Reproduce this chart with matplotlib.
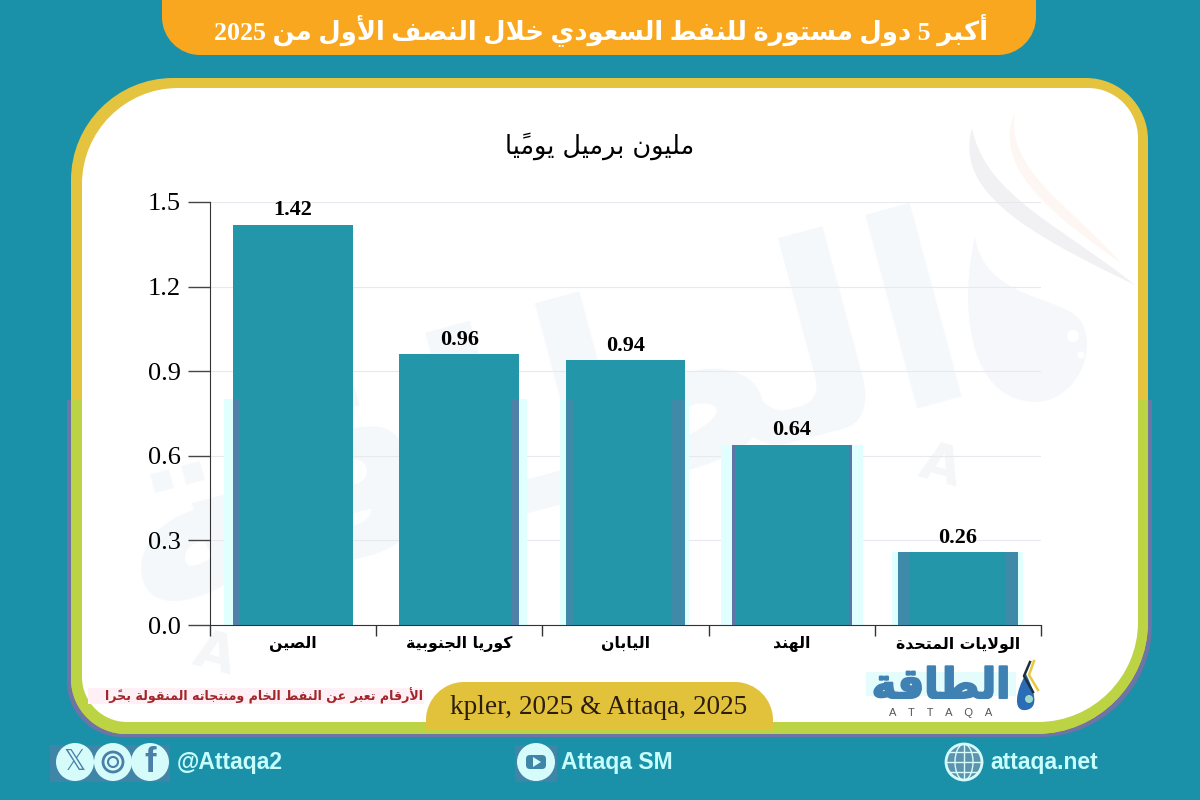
import numpy as np
import matplotlib
matplotlib.use("Agg")
import matplotlib.pyplot as plt
import matplotlib.patheffects as pe
from matplotlib.path import Path
from matplotlib.patches import PathPatch, Circle, Rectangle, FancyBboxPatch, Polygon, Ellipse

# data
categories = ["الصين", "كوريا الجنوبية", "اليابان", "الهند", "الولايات المتحدة"]
values = [1.42, 0.96, 0.94, 0.64, 0.26]
y_ticks = [0.0, 0.3, 0.6, 0.9, 1.2, 1.5]

title = "أكبر 5 دول مستورة للنفط السعودي خلال النصف الأول من 2025"
subtitle = "مليون برميل يوميًا"
note = "الأرقام تعبر عن النفط الخام ومنتجاته المنقولة بحرًا"
source = "kpler, 2025 & Attaqa, 2025"

# colours
TEAL = "#1b91a9"
BAR = "#2396aa"
ORANGE = "#f9a71f"
YELLOW = "#e4c33f"
GREEN = "#bcd444"
PURPLE = "#6d74a6"
CYAN = "#c8fdfd"
HALO = "#e0ffff"

SERIF = ["Liberation Serif", "DejaVu Sans"]
SANS = ["Liberation Sans", "DejaVu Sans"]

# faixas claras/roxas nos lados das barras: halo esq, halo dir, faixa esq, faixa dir (px)
edge_px = [(9, 0, 7, 0), (0, 8, 0, 8), (6, 4, 8, 13), (11, 11, 3, 3), (6, 5, 12, 12)]
edge_col = ["#4f80a8", "#4f80a8", "#3f8aa8", "#5f75a8", "#3f8aa8"]

# matplotlib nao faz shaping do arabe, entao as formas sao montadas aqui
FOUR = {"ب": 0xFE8F, "ت": 0xFE95, "ث": 0xFE99, "ج": 0xFE9D, "ح": 0xFEA1, "خ": 0xFEA5,
        "س": 0xFEB1, "ش": 0xFEB5, "ص": 0xFEB9, "ض": 0xFEBD, "ط": 0xFEC1, "ظ": 0xFEC5,
        "ع": 0xFEC9, "غ": 0xFECD, "ف": 0xFED1, "ق": 0xFED5, "ك": 0xFED9, "ل": 0xFEDD,
        "م": 0xFEE1, "ن": 0xFEE5, "ه": 0xFEE9, "ي": 0xFEF1}
TWO = {"ا": 0xFE8D, "أ": 0xFE83, "إ": 0xFE87, "آ": 0xFE81, "د": 0xFEA9, "ذ": 0xFEAB,
       "ر": 0xFEAD, "ز": 0xFEAF, "ة": 0xFE93, "و": 0xFEED, "ى": 0xFEEF}
LAM_ALEF = {"ا": 0xFEFB, "أ": 0xFEF7, "إ": 0xFEF9, "آ": 0xFEF5}
MARKS = "\u064b\u064c\u064d\u064e\u064f\u0650\u0651\u0652"


def shape_word(word):
    if not any(c in FOUR or c in TWO for c in word):
        return word
    # separa letras e marcas
    letters = []
    for c in word:
        if c in MARKS and letters:
            letters[-1][1] += c
        else:
            letters.append([c, ""])
    clusters = []
    prev_joins = False
    i = 0
    while i < len(letters):
        c, mark = letters[i]
        if c == "ل" and i + 1 < len(letters) and letters[i + 1][0] in LAM_ALEF:
            code = LAM_ALEF[letters[i + 1][0]] + (1 if prev_joins else 0)
            clusters.append(chr(code) + mark + letters[i + 1][1])
            prev_joins = False
            i += 2
            continue
        next_ok = i + 1 < len(letters)
        if c in FOUR:
            base = FOUR[c]
            if prev_joins and next_ok:
                code = base + 3
            elif prev_joins:
                code = base + 1
            elif next_ok:
                code = base + 2
            else:
                code = base
            prev_joins = True
        elif c in TWO:
            code = TWO[c] + (1 if prev_joins else 0)
            prev_joins = False
        else:
            code = ord(c)
            prev_joins = False
        clusters.append(chr(code) + mark)
        i += 1
    return "".join(reversed(clusters))


def ar(text):
    return " ".join(shape_word(w) for w in reversed(text.split(" ")))


def round_path(x0, y0, x1, y1, tl, tr, br, bl):
    # retangulo com um raio por canto, em pixels
    k = 0.45
    verts = [(x0 + tl, y0), (x1 - tr, y0),
             (x1 - tr * k, y0), (x1, y0 + tr * k), (x1, y0 + tr),
             (x1, y1 - br),
             (x1, y1 - br * k), (x1 - br * k, y1), (x1 - br, y1),
             (x0 + bl, y1),
             (x0 + bl * k, y1), (x0, y1 - bl * k), (x0, y1 - bl),
             (x0, y0 + tl),
             (x0, y0 + tl * k), (x0 + tl * k, y0), (x0 + tl, y0),
             (x0 + tl, y0)]
    c = Path.CURVE4
    codes = [Path.MOVETO, Path.LINETO, c, c, c, Path.LINETO, c, c, c, Path.LINETO,
             c, c, c, Path.LINETO, c, c, c, Path.CLOSEPOLY]
    return Path(verts, codes)


def blob(points):
    # forma fechada de curvas: ponto inicial + trios de controle
    codes = [Path.MOVETO] + [Path.CURVE4] * (len(points) - 1) + [Path.CLOSEPOLY]
    return Path(points + [points[0]], codes)


fig = plt.figure(figsize=(12, 8), dpi=100, facecolor=TEAL)

# camada de fundo em pixels
bg = fig.add_axes([0, 0, 1, 1], zorder=0)
bg.set_xlim(0, 1200)
bg.set_ylim(800, 0)
bg.axis("off")

# faixa do titulo
bg.add_patch(PathPatch(round_path(162, -30, 1036, 55, 0, 0, 38, 38), fc=ORANGE, ec="none"))
bg.text(601, 30, ar(title), family=SERIF, weight="bold", color="white", fontsize=18.6,
        ha="center", va="center")

# moldura: amarela em cima, verde em baixo a partir de y=400
outer = round_path(71, 78, 1148, 734, 102, 62, 112, 55)
inner = round_path(82, 88, 1138, 722, 96, 50, 100, 45)
lower = Rectangle((0, 400), 1200, 400, transform=bg.transData)
shadow = PathPatch(round_path(67, 78, 1152, 737, 102, 62, 112, 55), fc=PURPLE, ec="none")
bg.add_patch(shadow)
shadow.set_clip_path(lower)
bg.add_patch(PathPatch(outer, fc=YELLOW, ec="none"))
green = PathPatch(outer, fc=GREEN, ec="none")
bg.add_patch(green)
green.set_clip_path(lower)
inner_patch = PathPatch(inner, fc="white", ec="none")
bg.add_patch(inner_patch)

# marca d'agua
wm = bg.text(540, 430, ar("الطاقة"), family="DejaVu Sans", weight="bold", fontsize=190,
             color="#f5f8fb", rotation=15, ha="center", va="center", rotation_mode="anchor")
wm.set_clip_path(inner_patch)
for pos in [(214, 655), (940, 467)]:
    t = bg.text(pos[0], pos[1], "A", family="DejaVu Sans", weight="bold", fontsize=38,
                color="#f5f6f8", rotation=-15, ha="center", va="center")
    t.set_clip_path(inner_patch)
drop = blob([(975, 237), (960, 300), (965, 400), (1035, 402),
             (1075, 402), (1100, 350), (1080, 320), (1060, 295), (985, 300), (975, 237)])
bg.add_patch(PathPatch(drop, fc="#f6f7fb", ec="none"))
bg.add_patch(Circle((1073, 336), 6, fc="white", ec="none"))
bg.add_patch(Circle((1081, 355), 3.5, fc="white", ec="none"))
swoosh = blob([(972, 128), (955, 190), (1020, 230), (1135, 285), (1060, 225), (985, 195), (972, 128)])
bg.add_patch(PathPatch(swoosh, fc="#f1f1f3", ec="none"))
swoosh2 = blob([(1015, 112), (990, 170), (1060, 220), (1120, 262), (1070, 205), (1005, 170), (1015, 112)])
bg.add_patch(PathPatch(swoosh2, fc="#fdf6f2", ec="none"))

bg.text(600, 146, ar(subtitle), family="DejaVu Sans", color="black", fontsize=18.4,
        ha="center", va="center")

# nota e fonte
bg.add_patch(Rectangle((88, 688), 336, 16, fc="#fff0f6", ec="none"))
bg.text(264, 696, ar(note), family="DejaVu Sans", weight="bold", color="#a0262a", fontsize=9.1,
        ha="center", va="center")
bg.add_patch(PathPatch(round_path(426, 682, 773, 730, 38, 38, 0, 0), fc="#e2c23b", ec="none"))
bg.text(599, 708, source, family="Liberation Serif", color="#2b1d10", fontsize=19.6,
        ha="center", va="center")

# logo
bg.add_patch(Rectangle((866, 672), 150, 24, fc="#e4fcfc", ec="none"))
bg.text(941, 686, ar("الطاقة"), family="DejaVu Sans", weight="bold", fontsize=30,
        color="#3f81b2", ha="center", va="center",
        path_effects=[pe.withStroke(linewidth=1.5, foreground="#3f81b2")])
bg.text(941, 713, "A    T    T    A    Q    A", family="Liberation Sans", fontsize=8, color="#555555",
        ha="center", va="center")
bg.add_patch(PathPatch(blob([(1026, 674), (1016, 690), (1012, 712), (1026, 710),
                             (1040, 708), (1034, 690), (1026, 674)]), fc="#2a6cb5", ec="none"))
bg.add_patch(Circle((1029, 699), 4, fc="#9fd8c8", ec="none"))
bg.plot([1030, 1024, 1033], [662, 676, 692], color="#20303a", lw=1.8)
bg.plot([1034, 1029, 1038], [661, 675, 690], color="#e6c93c", lw=1.8)

# rodape
bg.add_patch(Rectangle((50, 745), 120, 37, fc="#3f85a8", ec="none"))
bg.add_patch(Rectangle((515, 745), 42, 37, fc="#3f85a8", ec="none"))
for cx in [75, 113, 150]:
    bg.add_patch(Circle((cx, 762), 19, fc="#d6fbfb", ec="none"))
bg.text(75, 762, "\U0001D54F", family="DejaVu Sans", fontsize=20, color="#4a7fa8", ha="center", va="center")
bg.add_patch(Circle((113, 762), 10, fc="none", ec="#4a7fa8", lw=2))
bg.add_patch(Circle((113, 762), 5, fc="none", ec="#4a7fa8", lw=1.5))
bg.text(150, 762, "f", family="Liberation Sans", weight="bold", fontsize=25, color="#4a7fa8",
        ha="center", va="center")
bg.text(177, 763, "@Attaqa2", family="Liberation Sans", weight="bold", color=CYAN, fontsize=16.5,
        ha="left", va="center")
bg.add_patch(Circle((536, 762), 19, fc="#d6fbfb", ec="none"))
bg.add_patch(FancyBboxPatch((526, 755), 20, 14, boxstyle="round,pad=0,rounding_size=4", fc="#3f85a8", ec="none"))
bg.add_patch(Polygon([(533, 757), (533, 767), (541, 762)], fc="#d6fbfb", ec="none"))
bg.text(561, 763, "Attaqa SM", family="Liberation Sans", weight="bold", color=CYAN, fontsize=16.5,
        ha="left", va="center")
bg.add_patch(Circle((964, 762), 18, fc="#5c93ad", ec="#d6fbfb", lw=2))
bg.add_patch(Ellipse((964, 762), 18, 36, fc="none", ec="#d6fbfb", lw=1))
bg.plot([946, 982], [762, 762], color="#d6fbfb", lw=1)
bg.plot([949, 979], [752, 752], color="#d6fbfb", lw=1)
bg.plot([949, 979], [772, 772], color="#d6fbfb", lw=1)
bg.plot([964, 964], [744, 780], color="#d6fbfb", lw=1)
bg.text(990, 763, "attaqa.net", family="Liberation Sans", weight="bold", color=CYAN, fontsize=16.5,
        ha="left", va="center")

# grafico
ax = fig.add_axes([210 / 1200, 1 - 625 / 800, 831 / 1200, 423 / 800], zorder=1)
ax.patch.set_visible(False)
x = np.arange(len(categories))
bar_w = 0.72
px = len(categories) / 831
ax.bar(x, values, width=bar_w, color=BAR, zorder=2)
# artefatos da imagem original, so abaixo de 0.8
for xi, v, (hl, hr, sl, sr), col in zip(x, values, edge_px, edge_col):
    h = min(v, 0.8)
    left = xi - bar_w / 2
    right = xi + bar_w / 2
    ax.bar(left - hl * px, h, width=hl * px, align="edge", color=HALO, zorder=1)
    ax.bar(right, h, width=hr * px, align="edge", color=HALO, zorder=1)
    ax.bar(left, h, width=sl * px, align="edge", color=col, zorder=3)
    ax.bar(right - sr * px, h, width=sr * px, align="edge", color=col, zorder=3)
for xi, v in zip(x, values):
    ax.annotate(f"{v:.2f}", (xi, v), xytext=(0, 3), textcoords="offset points", ha="center", va="bottom",
                family="Liberation Serif", weight="bold", fontsize=16, color="black", zorder=4)
ax.set_xlim(-0.5, len(categories) - 0.5)
ax.set_ylim(0, 1.5)
ax.set_yticks(y_ticks, [f"{t:.1f}" for t in y_ticks], family="Liberation Serif", fontsize=19)
ax.tick_params(axis="y", length=16, width=1, color="#444444", pad=5)
ax.yaxis.grid(True, color="#e8e8ee", lw=0.8)
ax.set_axisbelow(True)
ax.set_xticks(np.arange(len(categories) + 1) - 0.5, [""] * (len(categories) + 1))
ax.set_xticks(x, [ar(c) for c in categories], minor=True, family="DejaVu Sans", weight="bold",
              fontsize=11.3, color="black")
ax.tick_params(axis="x", which="major", length=8, width=1, color="#333333")
ax.tick_params(axis="x", which="minor", length=0, pad=8)
for side in ["top", "right"]:
    ax.spines[side].set_visible(False)
for side in ["left", "bottom"]:
    ax.spines[side].set_color("#333333")

fig.savefig("out.png", dpi=100, facecolor=TEAL)
